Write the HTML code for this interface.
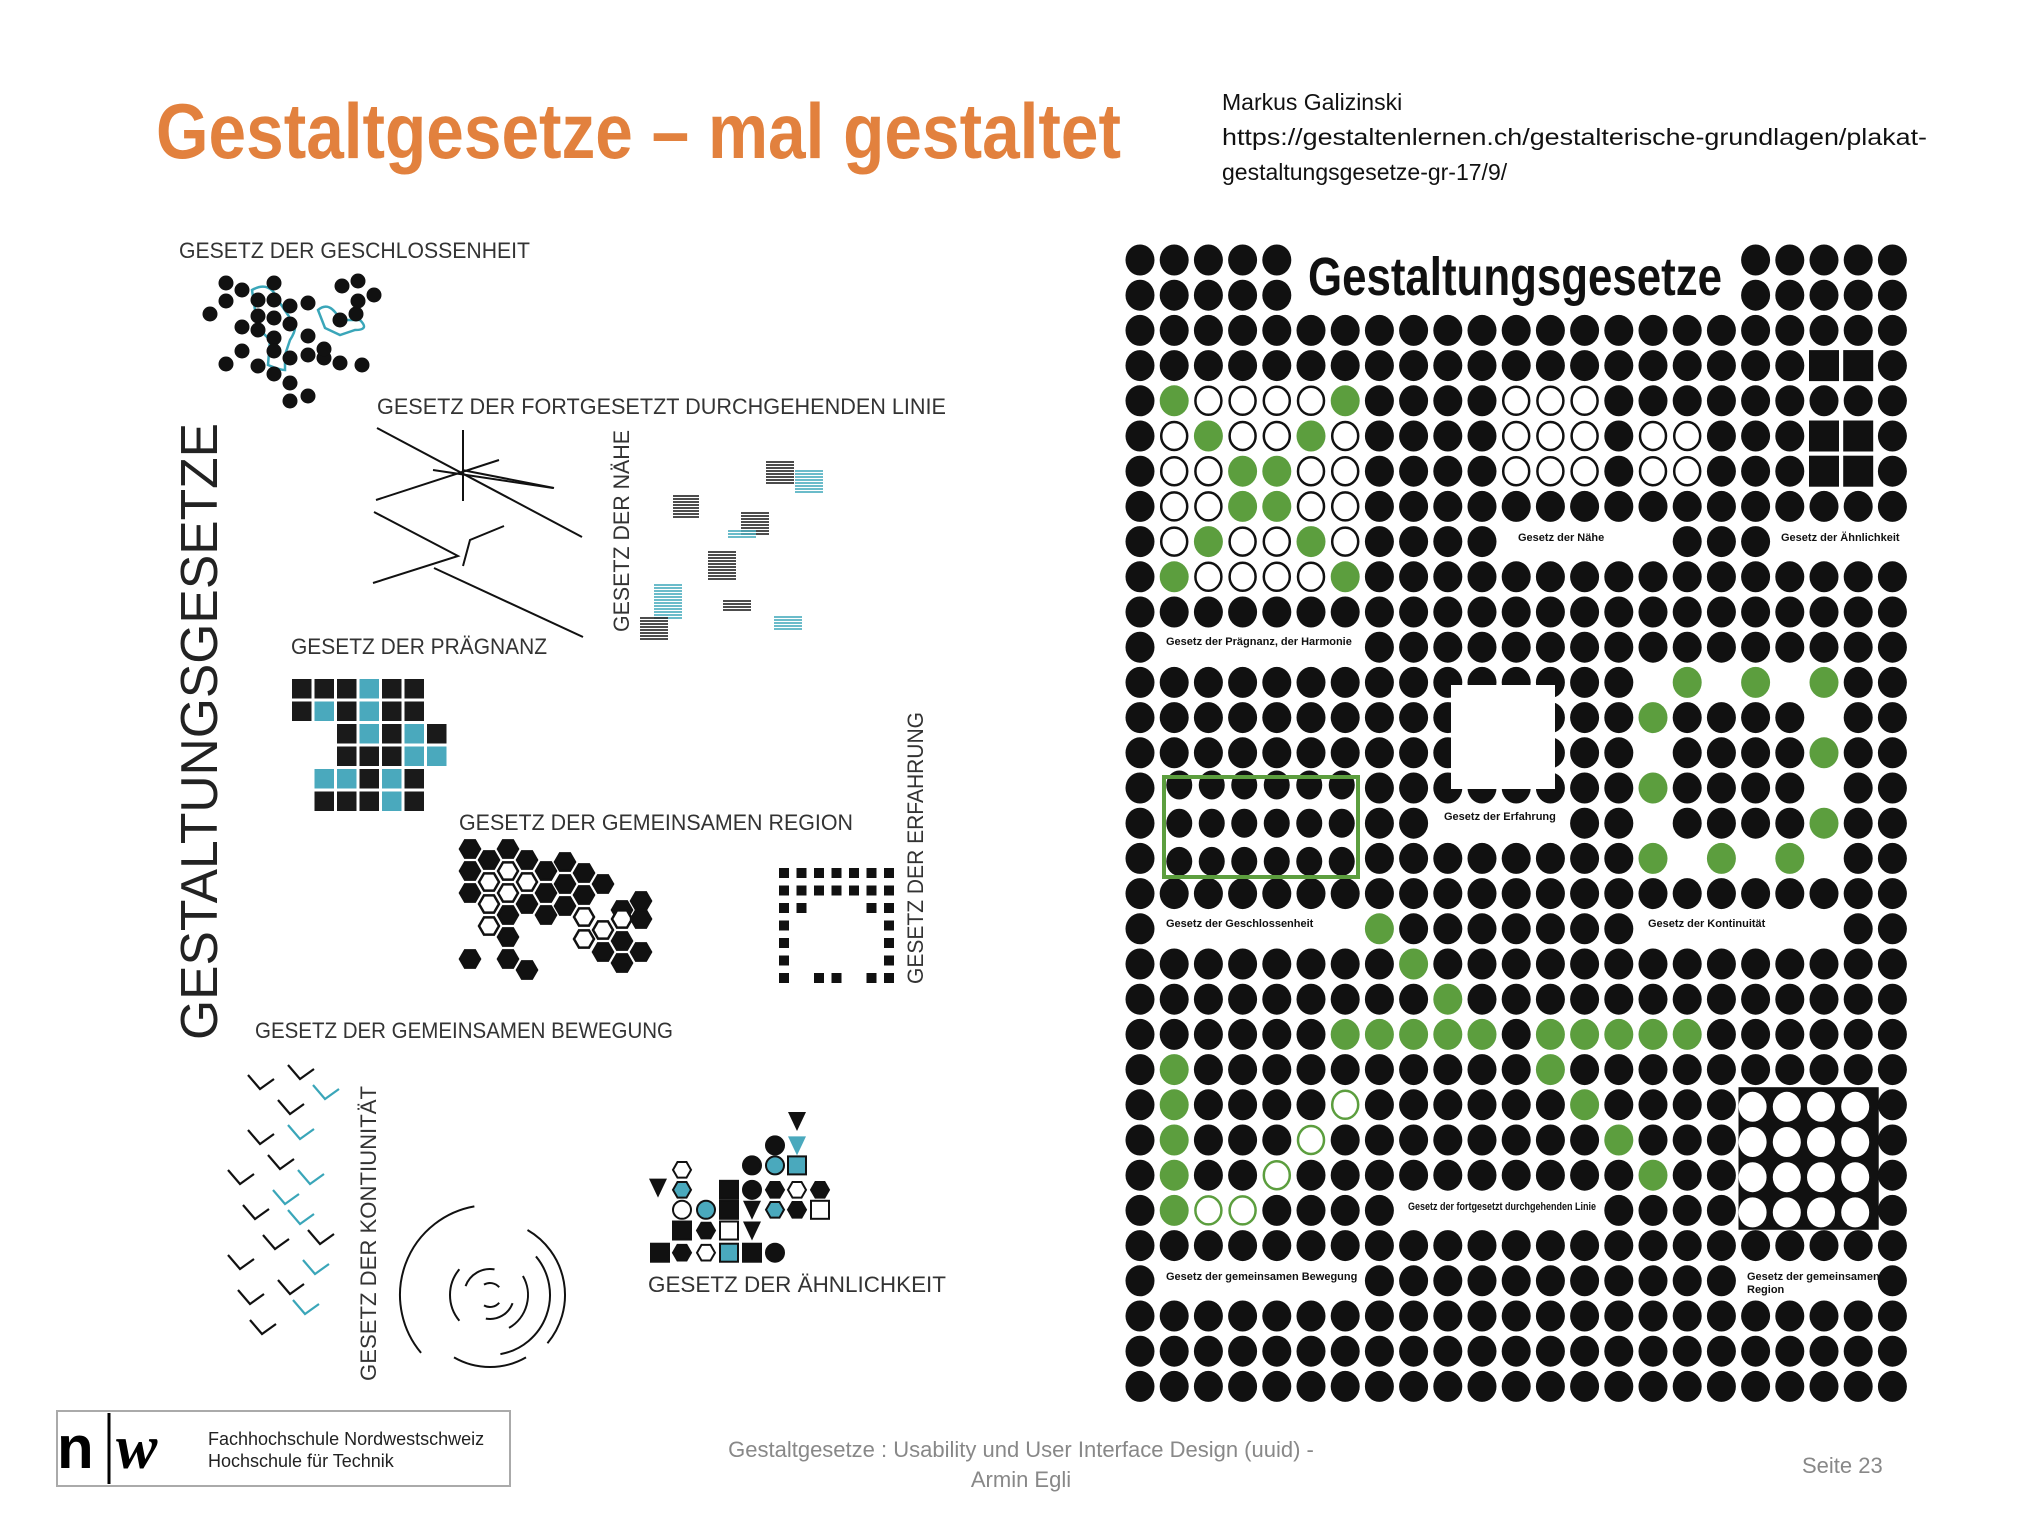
<!DOCTYPE html>
<html><head><meta charset="utf-8"><style>
html,body{margin:0;padding:0;background:#fff;}
svg{display:block;}
.lbl{font-family:"Liberation Sans",sans-serif;fill:#333;font-weight:normal;}
.pl{font-family:"Liberation Sans",sans-serif;font-weight:bold;fill:#111;font-size:11px;}
</style></head><body>
<svg id="s" width="2030" height="1526" viewBox="0 0 2030 1526" xmlns="http://www.w3.org/2000/svg">
<rect width="2030" height="1526" fill="#fff"/>
<text x="156" y="158" textLength="965" lengthAdjust="spacingAndGlyphs" style="font-family:'Liberation Sans',sans-serif;font-weight:bold;font-size:78px;fill:#e2813e">Gestaltgesetze – mal gestaltet</text>
<g style="font-family:'Liberation Sans',sans-serif;font-size:23px;fill:#111">
<text x="1222" y="110">Markus Galizinski</text>
<text x="1222" y="145" textLength="705" lengthAdjust="spacingAndGlyphs">https://gestaltenlernen.ch/gestalterische-grundlagen/plakat-</text>
<text x="1222" y="180">gestaltungsgesetze-gr-17/9/</text>
</g>

<g id="left">
<text class="lbl" x="179" y="258" font-size="22" textLength="351" lengthAdjust="spacingAndGlyphs">GESETZ DER GESCHLOSSENHEIT</text>
<text class="lbl" x="377" y="414" font-size="22" textLength="569" lengthAdjust="spacingAndGlyphs">GESETZ DER FORTGESETZT DURCHGEHENDEN LINIE</text>
<text class="lbl" transform="translate(629,632) rotate(-90)" font-size="22" textLength="202" lengthAdjust="spacingAndGlyphs">GESETZ DER NÄHE</text>
<text class="lbl" x="291" y="654" font-size="22" textLength="256" lengthAdjust="spacingAndGlyphs">GESETZ DER PRÄGNANZ</text>
<text class="lbl" x="459" y="830" font-size="22" textLength="394" lengthAdjust="spacingAndGlyphs">GESETZ DER GEMEINSAMEN REGION</text>
<text class="lbl" transform="translate(923,984) rotate(-90)" font-size="22" textLength="272" lengthAdjust="spacingAndGlyphs">GESETZ DER ERFAHRUNG</text>
<text class="lbl" transform="translate(217,1040) rotate(-90)" font-size="52" style="fill:#222" textLength="617" lengthAdjust="spacingAndGlyphs">GESTALTUNGSGESETZE</text>
<text class="lbl" x="255" y="1038" font-size="22" textLength="418" lengthAdjust="spacingAndGlyphs">GESETZ DER GEMEINSAMEN BEWEGUNG</text>
<text class="lbl" transform="translate(376,1381) rotate(-90)" font-size="22" textLength="295" lengthAdjust="spacingAndGlyphs">GESETZ DER KONTIUNITÄT</text>
<text class="lbl" x="648" y="1292" font-size="22" textLength="298" lengthAdjust="spacingAndGlyphs">GESETZ DER ÄHNLICHKEIT</text>
<g stroke="#111" stroke-width="2" fill="none">
<path d="M377 428 L582 537"/><path d="M462 470 L554 488"/><path d="M463 430 L463 501"/><path d="M376 500 L499 460"/><path d="M433 470 L553 488"/>
<path d="M374 512 L458 556 L373 583"/><path d="M463 566 L470 540 L504 526"/><path d="M434 568 L583 637"/>
</g>
<g id="naehe"></g>
<path d="M252 290 Q270 280 278 300 L290 318 Q300 325 290 340 L285 355 L285 370 Q280 370 268 365 L270 340 L260 330 L255 310 Z M318 310 Q330 300 340 320 L360 320 Q370 330 355 330 L340 335 L325 328 Z" fill="none" stroke="#3aa6b9" stroke-width="2.5"/>
<g id="dots"></g>
<g id="prag"></g>
<g id="hex"></g>
<g id="erf"></g>
<g id="bew" fill="none" stroke-width="2.2"></g>
<g id="kont" fill="none" stroke="#111" stroke-width="2"></g>
<g id="aehn"></g>
</g>

<g id="poster"></g>
<text x="1308" y="295" textLength="414" lengthAdjust="spacingAndGlyphs" style="font-family:'Liberation Sans',sans-serif;font-weight:bold;font-size:54px;fill:#111">Gestaltungsgesetze</text>
<g>
<text class="pl" x="1518" y="541">Gesetz der Nähe</text>
<text class="pl" x="1781" y="541">Gesetz der Ähnlichkeit</text>
<text class="pl" x="1166" y="645">Gesetz der Prägnanz, der Harmonie</text>
<text class="pl" x="1444" y="820">Gesetz der Erfahrung</text>
<text class="pl" x="1166" y="927">Gesetz der Geschlossenheit</text>
<text class="pl" x="1648" y="927">Gesetz der Kontinuität</text>
<text class="pl" x="1408" y="1210" textLength="188" lengthAdjust="spacingAndGlyphs">Gesetz der fortgesetzt durchgehenden Linie</text>
<text class="pl" x="1166" y="1280">Gesetz der gemeinsamen Bewegung</text>
<text class="pl" x="1747" y="1280">Gesetz der gemeinsamen</text>
<text class="pl" x="1747" y="1293">Region</text>
</g>

<g>
<rect x="57" y="1411" width="453" height="75" fill="#fff" stroke="#aaa" stroke-width="2"/>
<text x="57" y="1468" style="font-family:'Liberation Sans',sans-serif;font-weight:bold;font-size:60px;fill:#000">n</text>
<line x1="109" y1="1413" x2="109" y2="1484" stroke="#000" stroke-width="3"/>
<text x="116" y="1468" style="font-family:'Liberation Serif',serif;font-style:italic;font-weight:bold;font-size:62px;fill:#000">w</text>
<text x="208" y="1445" style="font-family:'Liberation Sans',sans-serif;font-size:18px;fill:#222">Fachhochschule Nordwestschweiz</text>
<text x="208" y="1467" style="font-family:'Liberation Sans',sans-serif;font-size:18px;fill:#222">Hochschule für Technik</text>
</g>
<g style="font-family:'Liberation Sans',sans-serif;font-size:22px;fill:#888">
<text x="1021" y="1457" text-anchor="middle">Gestaltgesetze : Usability und User Interface Design (uuid) -</text>
<text x="1021" y="1487" text-anchor="middle">Armin Egli</text>
<text x="1802" y="1473">Seite 23</text>
</g>
</svg>
<script>
const NS="http://www.w3.org/2000/svg";
const rows=[
"#####.............#####",
"#####.............#####",
"#######################",
"####################ss#",
"#goooog####ooo#########",
"#ogoogo####ooo#oo###ss#",
"#ooggoo####ooo#oo###ss#",
"#ooggoo################",
"#ogoogo####.....###....",
"#goooog################",
"#######################",
"#......################",
"###############.g.g.g##",
"###############g####.##",
"###############.####g##",
"#BBBBBB########g####.##",
"#BBBBBB##....##.####g##",
"#BBBBBB########g.g.g.##",
"#######################",
"#......g#######......##",
"########g##############",
"#########g#############",
"######ggggg#ggggg######",
"#g##########g##########",
"#g####c######g####wwww#",
"#g###c########g###wwww#",
"#g##c##########g##wwww#",
"#gcc####......####wwww#",
"#######################",
"#......###########....#",
"#######################",
"#######################",
"#######################"];
const GREEN="#5c9e3e";
function el(t,a,p){const e=document.createElementNS(NS,t);for(const k in a)e.setAttribute(k,a[k]);p.appendChild(e);return e;}
const P=document.getElementById('poster');
const X=c=>1140+c*34.2, Y=r=>260+r*35.2;
const blackBox=el('rect',{x:X(17.5),y:Y(23.5),width:X(21.6)-X(17.5),height:Y(27.55)-Y(23.5),fill:'#111'},P);


rows.forEach((row,r)=>{[...row].forEach((ch,c)=>{
  const cx=X(c),cy=Y(r);let e=null;
  if(ch==='#')e=el('ellipse',{cx,cy,rx:14.5,ry:15.5,fill:'#111'},P);
  else if(ch==='g')e=el('ellipse',{cx,cy,rx:14.5,ry:15.5,fill:GREEN},P);
  else if(ch==='o')e=el('ellipse',{cx,cy,rx:13,ry:14,fill:'#fff',stroke:'#111','stroke-width':2.5},P);
  else if(ch==='c')e=el('ellipse',{cx,cy,rx:13,ry:14,fill:'#fff',stroke:GREEN,'stroke-width':2.5},P);
  else if(ch==='w')e=el('ellipse',{cx:cx-3,cy:cy+2,rx:14,ry:15,fill:'#fff'},P);
  else if(ch==='s')e=el('rect',{x:cx-15,y:cy-15.5,width:30,height:31,fill:'#111'},P);
  else if(ch==='B')e=el('ellipse',{cx:1163+(c-0.5)*32.5,cy:cy+3*(r-16),rx:13,ry:14.5,fill:'#111'},P);
  if(e){}
});});
const gb=el('rect',{x:1164,y:777,width:194,height:100,fill:'none',stroke:GREEN,'stroke-width':4},P);


const ws=el('rect',{x:1451,y:685,width:104,height:104,fill:'#fff'},P);


const D=document.getElementById('dots');
[[226,283],[242,290],[274,283],[226,301],[210,314],[258,300],[274,300],[290,306],[308,303],[258,316],[274,318],[290,324],[242,327],[258,330],[274,338],[308,336],[242,351],[274,351],[290,358],[324,358],[226,364],[258,366],[274,374],[308,355],[324,349],[340,363],[362,365],[340,320],[356,314],[358,301],[342,286],[358,281],[374,295],[290,383],[290,401],[308,396]].forEach(p=>{const e=el('circle',{cx:p[0],cy:p[1],r:7.5,fill:'#111'},D);});
const N=document.getElementById('naehe');
[[673,496,26,8,'#111'],[766,462,28,8,'#111'],[795,471,28,8,'#3aa6b9'],[741,513,28,8,'#111'],[728,531,28,3,'#3aa6b9'],[708,552,28,10,'#111'],[654,585,28,12,'#3aa6b9'],[640,618,28,8,'#111'],[723,601,28,4,'#111'],[774,617,28,5,'#3aa6b9']].forEach(s=>{for(let i=0;i<s[3];i++){const e=el('line',{x1:s[0],x2:s[0]+s[2],y1:s[1]+i*3,y2:s[1]+i*3,stroke:s[4],'stroke-width':1.5},N);}});
const pg=["bbbcbb.","bcbcbb.","..bcbcb","..bbbcc",".ccbcb.",".bbbcb."];
const PG=document.getElementById('prag');
pg.forEach((row,r)=>[...row].forEach((ch,c)=>{if(ch==='.')return;const e=el('rect',{x:292+c*22.5,y:679+r*22.5,width:19.5,height:19.5,fill:ch==='b'?'#1a1a1a':'#4aa9bd'},PG);}));
const H=document.getElementById('hex');
function hex(cx,cy,fill){let d='';for(let i=0;i<6;i++){const a=Math.PI/3*i;d+=(i?'L':'M')+(cx+10*Math.cos(a))+' '+(cy+10*Math.sin(a));}const e=el('path',{d:d+'Z',fill:fill?'#111':'#fff',stroke:'#111','stroke-width':2.5},H);}
[[470,849,1],[508,849,1],[489,860,1],[527,860,1],[565,862,1],[584,873,1],[470,871,1],[489,882,0],[508,871,0],[527,882,0],[546,871,1],[565,884,1],[603,884,1],[641,901,1],[470,893,1],[489,904,0],[508,893,0],[527,904,1],[546,893,1],[565,906,1],[584,895,1],[622,910,1],[489,926,0],[508,915,1],[546,915,1],[584,917,0],[603,930,0],[622,919,0],[641,919,1],[508,937,1],[584,939,0],[603,952,1],[622,941,1],[641,952,1],[470,959,1],[508,959,1],[527,970,1],[622,963,1]].forEach(h=>hex(h[0],h[1],h[2]));
const E=document.getElementById('erf');
for(let r=0;r<7;r++)for(let c=0;c<7;c++){const inner=(r>=2&&r<=5&&c>=1&&c<=5)&&!(r===2&&(c===1||c===5));if(inner)continue;if(r===6&&(c===1||c===4))continue;const e=el('rect',{x:779+c*17.5,y:868+r*17.5,width:10,height:10,fill:'#111'},E);}
const B=document.getElementById('bew');
[[260,1085,0],[300,1075,0],[325,1095,1],[290,1110,0],[260,1140,0],[300,1135,1],[280,1165,0],[240,1180,0],[310,1180,1],[285,1200,1],[255,1215,0],[300,1220,1],[275,1245,0],[240,1265,0],[315,1270,1],[290,1290,0],[250,1300,0],[305,1310,1],[262,1330,0],[320,1240,0]].forEach(v=>{const e=el('path',{d:`M${v[0]-12} ${v[1]-10} L${v[0]} ${v[1]+4} L${v[0]+14} ${v[1]-6}`,stroke:v[2]?'#3aa6b9':'#111'},B);});
const K=document.getElementById('kont');
[[90,140,260],[75,-60,40],[72,60,120],[60,-40,80],[40,140,220],[38,-30,60],[26,200,280],[24,20,100],[12,40,120],[12,-120,-40]].forEach(a=>{const cx=490,cy=1295,r=a[0],s=a[1]*Math.PI/180,t=a[2]*Math.PI/180;const e=el('path',{d:`M${cx+r*Math.cos(s)} ${cy+r*Math.sin(s)} A${r} ${r} 0 0 1 ${cx+r*Math.cos(t)} ${cy+r*Math.sin(t)}`},K);});
const A=document.getElementById('aehn');
function shp(t,cx,cy0,col){const cy=1121+(cy0-1152)*0.74;let e;const f=col==='w'?'#fff':(col==='c'?'#4aa9bd':'#111');const st={stroke:'#111','stroke-width':2};
 if(t==='s')e=el('rect',Object.assign({x:cx-9,y:cy-9,width:18,height:18,fill:f},st),A);
 else if(t==='o')e=el('circle',Object.assign({cx,cy,r:9,fill:f},st),A);
 else if(t==='t')e=el('path',{d:`M${cx-9} ${cy-9} L${cx+9} ${cy-9} L${cx} ${cy+10}Z`,fill:f},A);
 else {let d='';for(let i=0;i<6;i++){const a=Math.PI/3*i;d+=(i?'L':'M')+(cx+9*Math.cos(a))+' '+(cy+9*Math.sin(a));}e=el('path',Object.assign({d:d+'Z',fill:f},st),A);}
 }
[['t',797,1152,'b'],['o',775,1185,'b'],['t',797,1185,'c'],['h',682,1218,'w'],['o',752,1212,'b'],['o',775,1212,'c'],['s',797,1212,'c'],
['t',658,1242,'b'],['h',682,1245,'c'],['s',729,1245,'b'],['o',752,1245,'b'],['h',775,1245,'b'],['h',797,1245,'w'],['h',820,1245,'b'],
['o',682,1272,'w'],['o',706,1272,'c'],['s',729,1272,'b'],['t',752,1272,'b'],['h',775,1272,'c'],['h',797,1272,'b'],['s',820,1272,'w'],
['s',682,1300,'b'],['h',706,1300,'b'],['s',729,1300,'w'],['t',752,1300,'b'],
['s',660,1330,'b'],['h',682,1330,'b'],['h',706,1330,'w'],['s',729,1330,'c'],['s',752,1330,'b'],['o',775,1330,'b']].forEach(s=>shp(...s));
</script>
</body></html>
